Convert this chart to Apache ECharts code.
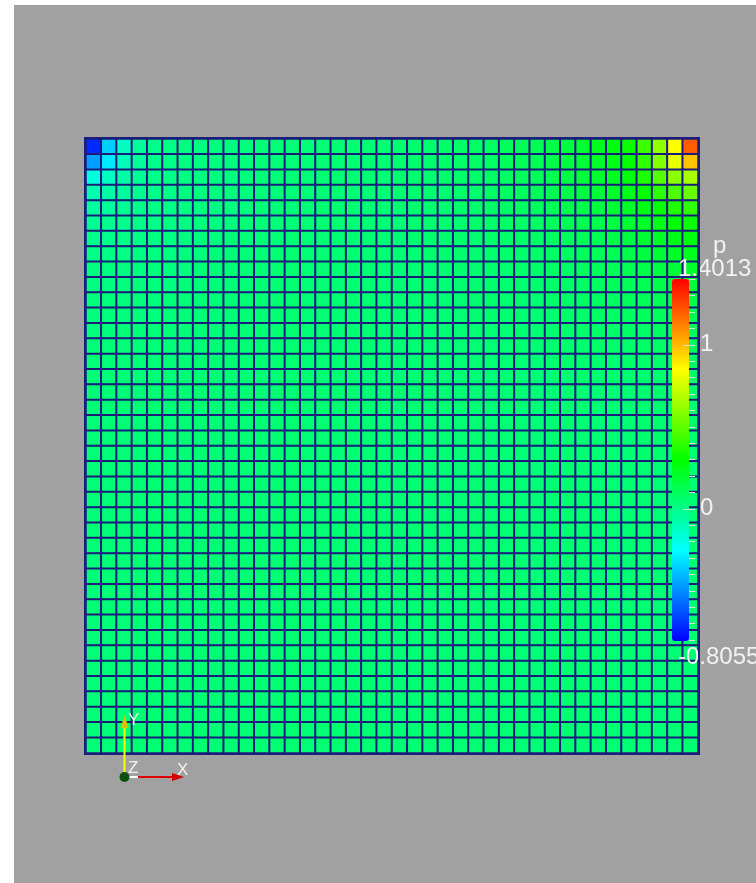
<!DOCTYPE html>
<html>
<head>
<meta charset="utf-8">
<script src="https://cdn.jsdelivr.net/npm/echarts@6/dist/echarts.min.js"></script>
<style>
html,body{margin:0;padding:0;background:#ffffff;width:756px;height:883px;overflow:hidden;}
#chart{position:absolute;left:14px;top:5px;width:820px;height:878px;background:#a1a1a1;}
</style>
</head>
<body>
<div id="chart"></div>
<script>
// Pressure field p, rows listed top (row 0) to bottom, 40 columns left to right
const r00 = [-0.72,-0.36,-0.12,-0.03,0.00,0.01,0.02,0.02,0.03,0.03, 0.03,0.04,0.04,0.04,0.04,0.05,0.05,0.05,0.05,0.05, 0.06,0.06,0.06,0.07,0.07,0.08,0.09,0.10,0.11,0.12, 0.14,0.16,0.19,0.23,0.27,0.32,0.43,0.61,0.85,1.20];
const r01 = [-0.46,-0.30,-0.10,-0.03,0.00,0.01,0.02,0.02,0.03,0.03, 0.03,0.04,0.04,0.04,0.04,0.05,0.05,0.05,0.05,0.05, 0.06,0.06,0.06,0.07,0.07,0.08,0.09,0.10,0.11,0.12, 0.14,0.16,0.18,0.21,0.25,0.30,0.40,0.58,0.80,0.98];
const r02 = [-0.18,-0.12,-0.06,-0.02,0.00,0.01,0.02,0.02,0.03,0.03, 0.03,0.04,0.04,0.04,0.04,0.05,0.05,0.05,0.05,0.05, 0.06,0.06,0.06,0.07,0.07,0.08,0.08,0.09,0.10,0.11, 0.13,0.15,0.17,0.20,0.23,0.28,0.36,0.48,0.60,0.66];
const r03 = [-0.08,-0.06,-0.03,-0.01,0.00,0.01,0.02,0.02,0.03,0.03, 0.03,0.04,0.04,0.04,0.04,0.05,0.05,0.05,0.05,0.05, 0.06,0.06,0.06,0.06,0.07,0.07,0.08,0.09,0.10,0.11, 0.12,0.14,0.16,0.18,0.21,0.25,0.31,0.39,0.46,0.52];
const r04 = [-0.04,-0.03,-0.02,0.00,0.01,0.01,0.02,0.02,0.03,0.03, 0.03,0.04,0.04,0.04,0.04,0.05,0.05,0.05,0.05,0.05, 0.05,0.06,0.06,0.06,0.07,0.07,0.08,0.08,0.09,0.10, 0.11,0.13,0.14,0.16,0.19,0.22,0.26,0.31,0.36,0.40];
const r05 = [-0.02,-0.01,0.00,0.01,0.01,0.02,0.02,0.03,0.03,0.03, 0.04,0.04,0.04,0.04,0.05,0.05,0.05,0.05,0.05,0.05, 0.05,0.06,0.06,0.06,0.06,0.07,0.07,0.08,0.08,0.09, 0.10,0.11,0.13,0.14,0.16,0.19,0.22,0.26,0.30,0.32];
const r06 = [0.00,0.00,0.01,0.01,0.02,0.02,0.03,0.03,0.03,0.04, 0.04,0.04,0.04,0.05,0.05,0.05,0.05,0.05,0.05,0.05, 0.05,0.06,0.06,0.06,0.06,0.06,0.07,0.07,0.08,0.08, 0.09,0.10,0.11,0.12,0.14,0.16,0.19,0.22,0.25,0.27];
const r07 = [0.01,0.01,0.01,0.02,0.02,0.03,0.03,0.03,0.04,0.04, 0.04,0.04,0.05,0.05,0.05,0.05,0.05,0.05,0.05,0.05, 0.05,0.05,0.06,0.06,0.06,0.06,0.06,0.07,0.07,0.08, 0.08,0.09,0.10,0.11,0.12,0.14,0.16,0.19,0.21,0.23];
const r08 = [0.02,0.02,0.02,0.02,0.03,0.03,0.03,0.04,0.04,0.04, 0.04,0.04,0.05,0.05,0.05,0.05,0.05,0.05,0.05,0.05, 0.05,0.05,0.05,0.06,0.06,0.06,0.06,0.06,0.07,0.07, 0.08,0.08,0.09,0.10,0.11,0.12,0.14,0.16,0.18,0.20];
const r09 = [0.02,0.02,0.03,0.03,0.03,0.03,0.04,0.04,0.04,0.04, 0.04,0.05,0.05,0.05,0.05,0.05,0.05,0.05,0.05,0.05, 0.05,0.05,0.05,0.05,0.06,0.06,0.06,0.06,0.06,0.07, 0.07,0.08,0.08,0.09,0.10,0.11,0.12,0.14,0.15,0.17];
const r10 = [0.03,0.03,0.03,0.03,0.03,0.04,0.04,0.04,0.04,0.04, 0.05,0.05,0.05,0.05,0.05,0.05,0.05,0.05,0.05,0.05, 0.05,0.05,0.05,0.05,0.05,0.06,0.06,0.06,0.06,0.06, 0.07,0.07,0.08,0.08,0.09,0.10,0.11,0.12,0.13,0.14];
const r11 = [0.03,0.03,0.03,0.03,0.03,0.04,0.04,0.04,0.04,0.04, 0.05,0.05,0.05,0.05,0.05,0.05,0.05,0.05,0.05,0.05, 0.05,0.05,0.05,0.05,0.05,0.06,0.06,0.06,0.06,0.06, 0.06,0.07,0.07,0.08,0.08,0.09,0.10,0.10,0.11,0.12];
const r12 = [0.03,0.03,0.04,0.04,0.04,0.04,0.04,0.04,0.04,0.05, 0.05,0.05,0.05,0.05,0.05,0.05,0.05,0.05,0.05,0.05, 0.05,0.05,0.05,0.05,0.05,0.05,0.05,0.05,0.06,0.06, 0.06,0.06,0.07,0.07,0.07,0.08,0.08,0.09,0.09,0.10];
const r13 = [0.04,0.04,0.04,0.04,0.04,0.04,0.04,0.04,0.05,0.05, 0.05,0.05,0.05,0.05,0.05,0.05,0.05,0.05,0.05,0.05, 0.05,0.05,0.05,0.05,0.05,0.05,0.05,0.05,0.06,0.06, 0.06,0.06,0.06,0.07,0.07,0.07,0.08,0.08,0.08,0.09];
const r14 = [0.04,0.04,0.04,0.04,0.04,0.04,0.05,0.05,0.05,0.05, 0.05,0.05,0.05,0.05,0.05,0.05,0.05,0.05,0.05,0.05, 0.05,0.05,0.05,0.05,0.05,0.05,0.05,0.05,0.05,0.05, 0.06,0.06,0.06,0.06,0.06,0.07,0.07,0.07,0.07,0.08];
const r15 = [0.04,0.04,0.04,0.04,0.04,0.05,0.05,0.05,0.05,0.05, 0.05,0.05,0.05,0.05,0.05,0.05,0.05,0.05,0.05,0.05, 0.05,0.05,0.05,0.05,0.05,0.05,0.05,0.05,0.05,0.05, 0.05,0.05,0.06,0.06,0.06,0.06,0.06,0.06,0.07,0.07];
const rMid = [0.04,0.04,0.04,0.04,0.05,0.05,0.05,0.05,0.05,0.05, 0.05,0.05,0.05,0.05,0.05,0.05,0.05,0.05,0.05,0.05, 0.05,0.05,0.05,0.05,0.05,0.05,0.05,0.05,0.05,0.05, 0.05,0.05,0.05,0.05,0.05,0.05,0.06,0.06,0.06,0.06];
const rLow = [0.04,0.04,0.04,0.05,0.05,0.05,0.05,0.05,0.05,0.05, 0.05,0.05,0.05,0.05,0.05,0.05,0.05,0.05,0.05,0.05, 0.05,0.05,0.05,0.05,0.05,0.05,0.05,0.05,0.05,0.05, 0.05,0.05,0.05,0.05,0.05,0.05,0.05,0.05,0.05,0.05];
const rows = [r00,r01,r02,r03,r04,r05,r06,r07,r08,r09,r10,r11,r12,r13,r14,r15,
  rMid,rMid,rMid,rMid,rMid,
  rLow,rLow,rLow,rLow,rLow,rLow,rLow,rLow,rLow,rLow,rLow,rLow,rLow,rLow,rLow,rLow,rLow,rLow,rLow];

// colour bar
const pMin = -0.8055, pMax = 1.4013;
const cbMajor = [0, 1];
const cbEnds = [-0.8055, 1.4013];
const cbMinorTicks = [-0.8,-0.7,-0.6,-0.5,-0.4,-0.3,-0.2,-0.1,0,0.1,0.2,0.3,0.4,0.5,0.6,0.7,0.8,0.9,1.0,1.1,1.2,1.3,1.4];
const rainbow = ['#0000ff','#00ffff','#00ff00','#ffff00','#ff0000'];

const nCols = rows[0].length, nRows = rows.length;
const xCats = Array.from({length: nCols}, (_, i) => String(i));
const yCats = Array.from({length: nRows}, (_, i) => String(i));
const cells = [];
rows.forEach((row, r) => row.forEach((v, c) => cells.push([c, r, v])));

const labelColor = '#f2f2f2';
const tickColor = '#dcdcdc';
const font = '"Liberation Sans", Arial, sans-serif';
const cbRect = {left: 658, top: 274, width: 17, height: 362, outerBoundsMode: 'none', containLabel: false};

const chart = echarts.init(document.getElementById('chart'));
chart.setOption({
  animation: false,
  backgroundColor: '#a1a1a1',
  grid: [
    {left: 72, top: 134, width: 612, height: 614, outerBoundsMode: 'none', containLabel: false},
    Object.assign({}, cbRect),
    Object.assign({}, cbRect),
    Object.assign({}, cbRect)
  ],
  xAxis: [
    {type: 'category', data: xCats, gridIndex: 0, show: false},
    {type: 'value', gridIndex: 1, show: false, min: 0, max: 1},
    {type: 'value', gridIndex: 2, show: false, min: 0, max: 1},
    {type: 'value', gridIndex: 3, show: false, min: 0, max: 1}
  ],
  yAxis: [
    {type: 'category', data: yCats, gridIndex: 0, show: false, inverse: true},
    // minor ticks (outside, right edge) and labels 1 / 0
    {type: 'value', gridIndex: 1, min: pMin, max: pMax, position: 'right', z: 10,
     axisLine: {show: false, onZero: false}, splitLine: {show: false},
     axisTick: {show: true, length: 6, inside: false, customValues: cbMinorTicks,
                lineStyle: {color: tickColor, width: 1}},
     axisLabel: {show: true, customValues: cbMajor, margin: 11, color: labelColor,
                 fontSize: 24, fontFamily: font, formatter: v => String(v)}},
    // major ticks reaching into the bar
    {type: 'value', gridIndex: 2, min: pMin, max: pMax, position: 'right', z: 10,
     axisLine: {show: false, onZero: false}, splitLine: {show: false},
     axisTick: {show: true, length: 6, inside: true, customValues: cbMajor,
                lineStyle: {color: tickColor, width: 1}},
     axisLabel: {show: false}},
    // range end labels
    {type: 'value', gridIndex: 3, min: pMin, max: pMax, position: 'left', z: 10,
     axisLine: {show: false, onZero: false}, splitLine: {show: false}, axisTick: {show: false},
     axisLabel: {show: true, inside: true, customValues: cbEnds, margin: 6, align: 'left',
                 hideOverlap: false,
                 color: labelColor, fontSize: 24, fontFamily: font,
                 formatter: v => (v > 1 ? '{top|' + v.toFixed(4) + '}' : '{bot|' + v.toFixed(4) + '}'),
                 rich: {
                   top: {color: labelColor, fontSize: 24, fontFamily: font, align: 'left', padding: [0, 0, 20, 0]},
                   bot: {color: labelColor, fontSize: 24, fontFamily: font, align: 'left', padding: [32, 0, 0, 0]}
                 }}}
  ],
  visualMap: {
    type: 'continuous', min: pMin, max: pMax, seriesIndex: 0, dimension: 2,
    left: 658, top: 274, itemWidth: 17, itemHeight: 362, padding: 0,
    calculable: false, text: null, showLabel: false,
    inRange: {color: rainbow}, z: 4
  },
  series: [{
    type: 'heatmap', xAxisIndex: 0, yAxisIndex: 0, data: cells,
    itemStyle: {borderColor: '#1c1c7c', borderWidth: 2},
    emphasis: {disabled: true}
  }],
  graphic: [
    {type: 'rect', shape: {x: 71, y: 133, width: 614, height: 616}, z: 100, silent: true,
     style: {fill: null, stroke: '#1c1c7c', lineWidth: 2}},
    {type: 'text', left: 699, top: 229, z: 100, silent: true,
     style: {text: 'p', fill: labelColor, fontSize: 24, fontFamily: font}},
    // orientation triad
    {type: 'line', shape: {x1: 110.5, y1: 772, x2: 110.5, y2: 720}, z: 100, silent: true,
     style: {stroke: '#ffff00', lineWidth: 2}},
    {type: 'polygon', shape: {points: [[110.5, 710], [106.5, 723], [114.5, 723]]}, z: 100, silent: true,
     style: {fill: '#d4c400'}},
    {type: 'line', shape: {x1: 114, y1: 772, x2: 162, y2: 772}, z: 100, silent: true,
     style: {stroke: '#e00000', lineWidth: 2}},
    {type: 'line', shape: {x1: 114, y1: 772, x2: 124, y2: 772}, z: 101, silent: true,
     style: {stroke: '#ffffff', lineWidth: 2}},
    {type: 'polygon', shape: {points: [[170, 772], [158, 768], [158, 776]]}, z: 100, silent: true,
     style: {fill: '#d00000'}},
    {type: 'circle', shape: {cx: 110.5, cy: 772, r: 5}, z: 102, silent: true,
     style: {fill: '#0d4f0d'}},
    {type: 'text', left: 114, top: 707, z: 100, silent: true,
     style: {text: 'Y', fill: labelColor, fontSize: 17, fontFamily: font}},
    {type: 'text', left: 114, top: 755, z: 100, silent: true,
     style: {text: 'Z', fill: labelColor, fontSize: 17, fontFamily: font}},
    {type: 'text', left: 163, top: 757, z: 100, silent: true,
     style: {text: 'X', fill: labelColor, fontSize: 17, fontFamily: font}}
  ]
});
</script>
</body>
</html>
